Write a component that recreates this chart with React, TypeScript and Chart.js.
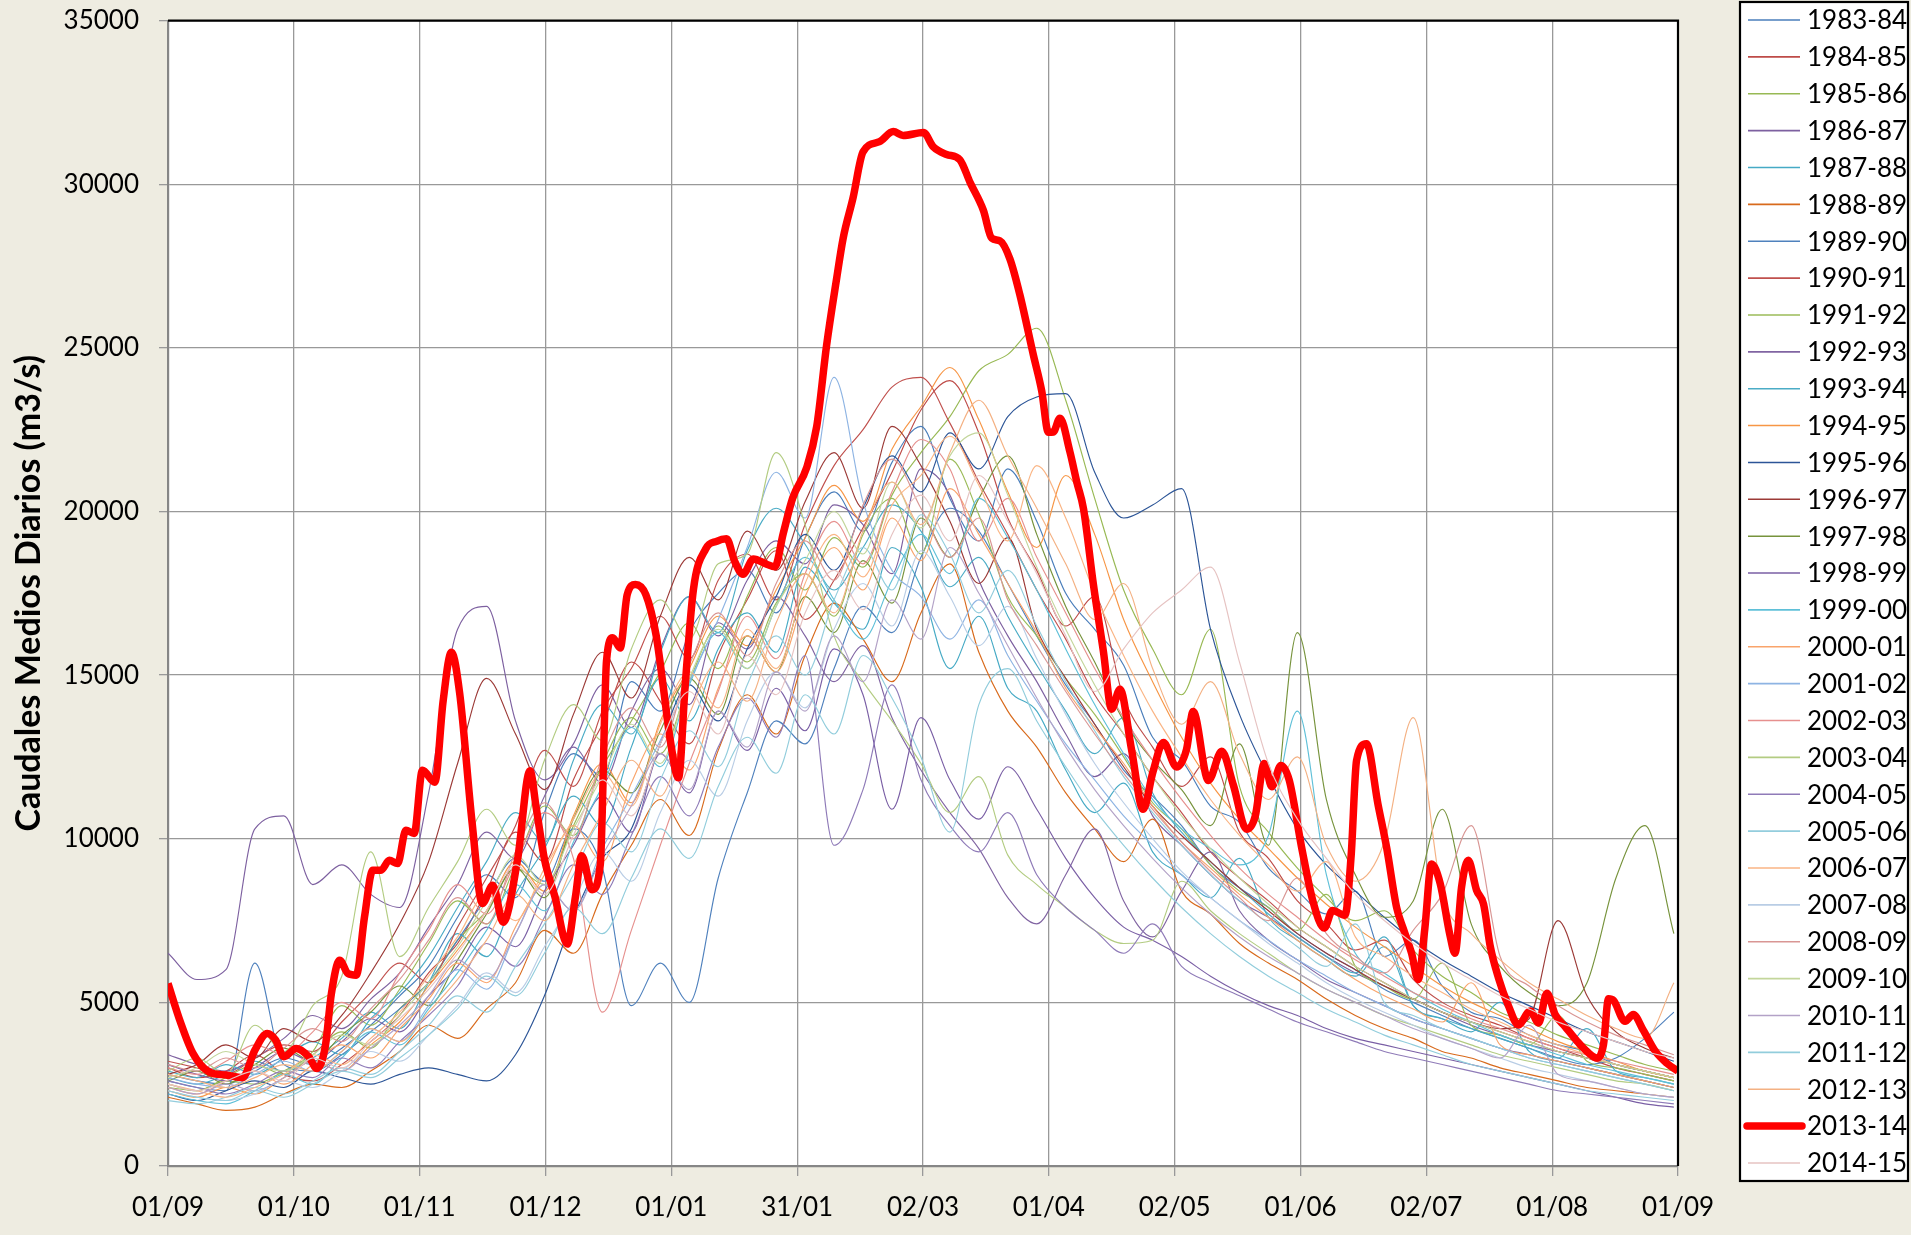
import React, { useEffect, useRef } from 'react';
import { Chart, registerables } from 'chart.js';

Chart.register(...registerables);

// ---------- DATA ----------
const xTickLabels = ['01/09', '01/10', '01/11', '01/12', '01/01', '31/01', '02/03', '01/04', '02/05', '01/06', '02/07', '01/08', '01/09'];
const yMax = 35000;
const yStep = 5000;

const seasons = ['1983-84', '1984-85', '1985-86', '1986-87', '1987-88', '1988-89', '1989-90', '1990-91', '1991-92', '1992-93', '1993-94', '1994-95', '1995-96', '1996-97', '1997-98', '1998-99', '1999-00', '2000-01', '2001-02', '2002-03', '2003-04', '2004-05', '2005-06', '2006-07', '2007-08', '2008-09', '2009-10', '2010-11', '2011-12', '2012-13', '2013-14', '2014-15'];

const seasonColors = ['#4A7EBB', '#BE4B48', '#98B954', '#7D60A0', '#46AAC5', '#D86A1C', '#4F81BD', '#C0504D', '#9BBB59', '#8064A2', '#4BACC6', '#F79646', '#2C5597', '#9C3A37', '#77933C', '#7A5FA5', '#5FC0D8', '#F9A46B', '#8EB4E3', '#E6908E', '#B3CC82', '#8F7BB8', '#93CDDD', '#FAB585', '#B9CDE5', '#D99694', '#C3D69B', '#B3A2C7', '#92CDDC', '#F4B183', '#FF0000', '#E6C3C2'];

// day index from 01/09 (weekly readings)
const weekDays = [0, 7, 14, 21, 28, 35, 42, 49, 56, 63, 70, 77, 84, 91, 98, 105, 112, 119, 126, 133, 140, 147, 154, 161, 168, 175, 182, 189, 196, 203, 210, 217, 224, 231, 238, 245, 252, 259, 266, 273, 280, 287, 294, 301, 308, 315, 322, 329, 336, 343, 350, 357, 364];

const f1983_84 = [2800, 2600, 2500, 2900, 3300, 3100, 3600, 4300, 5200, 6100, 7600, 8900, 8200, 10800, 12600, 11900, 14800, 13900, 16300, 17500, 18200, 16900, 19200, 20600, 19400, 21500, 22600, 20400, 19100, 21300, 19700, 17500, 16400, 15300, 13100, 12400, 11000, 10500, 9100, 8400, 7700, 8400, 6400, 6900, 5500, 4700, 4500, 4000, 3700, 3500, 3100, 2900, 2700];
const f1984_85 = [3000, 2700, 2900, 3400, 2800, 2600, 3100, 3800, 4600, 5900, 6800, 8400, 10200, 9300, 11800, 13500, 15400, 14200, 12900, 15600, 17300, 18800, 16700, 17900, 19500, 21200, 23100, 24000, 22400, 19800, 18200, 16500, 17400, 14300, 12800, 11600, 12500, 10200, 9400, 8100, 7400, 6600, 6900, 5700, 5000, 4600, 4300, 3900, 3600, 3300, 3000, 2800, 2600];
const f1985_86 = [2400, 2300, 2600, 2500, 2900, 3400, 4100, 3600, 4800, 5600, 6900, 7800, 9100, 8600, 10400, 12200, 13600, 15100, 16600, 15200, 17400, 18900, 17600, 19200, 18300, 20500, 21800, 22900, 24300, 24800, 25600, 23400, 20400, 17600, 15800, 14400, 16400, 11600, 10200, 9100, 8200, 7500, 7800, 6600, 5800, 5300, 4700, 4400, 4000, 3700, 3400, 3100, 2900];
const f1986_87 = [6500, 5700, 6000, 10300, 10700, 8600, 9200, 8300, 7900, 11400, 16400, 17100, 13600, 11800, 12900, 14700, 13400, 15800, 17400, 16200, 17900, 19100, 18400, 20200, 19600, 18100, 21300, 20500, 17900, 16200, 14800, 13200, 11900, 12600, 10700, 9800, 8900, 8100, 7600, 7000, 6400, 5900, 5500, 5100, 4700, 4300, 4000, 3700, 3500, 3300, 3100, 2900, 2700];
const f1987_88 = [2700, 2500, 2800, 3200, 2900, 3300, 3900, 4700, 4200, 5600, 7100, 6400, 8300, 9700, 11300, 10400, 12800, 14900, 13600, 15800, 16900, 15700, 18300, 17200, 16400, 18900, 17700, 15200, 16800, 14600, 13900, 12100, 10800, 11700, 9600, 8900, 8200, 9400, 7600, 6900, 6300, 5800, 6700, 4900, 4500, 4100, 5000, 3500, 3200, 3000, 2800, 2600, 2400];
const f1988_89 = [2100, 1900, 1700, 1800, 2200, 2500, 2400, 2900, 3500, 4300, 3900, 4800, 5600, 7200, 6500, 8300, 9800, 11200, 10100, 12700, 14400, 13200, 15600, 17200, 16100, 14800, 16900, 18400, 15700, 13900, 12800, 11400, 10300, 9300, 10600, 8400, 7700, 6800, 6200, 5700, 5100, 4600, 4200, 3900, 3500, 3300, 3000, 2800, 2600, 2400, 2300, 2200, 2100];
const f1989_90 = [2600, 2400, 2300, 6200, 3100, 2900, 3400, 4100, 4800, 5600, 6900, 8200, 9400, 8700, 10300, 9100, 4900, 6200, 5000, 8800, 11400, 13600, 12900, 15200, 17100, 16300, 18600, 20100, 19400, 17800, 16200, 14700, 13500, 12100, 11300, 10400, 9200, 8500, 7900, 7100, 6500, 6000, 5400, 5000, 4600, 4200, 3900, 3600, 3300, 3100, 3300, 3900, 4700];
const f1990_91 = [3200, 3000, 2800, 3300, 3700, 3500, 4400, 5300, 6200, 5600, 7300, 8800, 10400, 12700, 11600, 13900, 15200, 16800, 15500, 17900, 18700, 17300, 19600, 21400, 22500, 23800, 24100, 22700, 20900, 19300, 17600, 16100, 14400, 13200, 11900, 10800, 9600, 8800, 8100, 7300, 6700, 6100, 5600, 5100, 4700, 4400, 4100, 3800, 3500, 3300, 3100, 2900, 2700];
const f1991_92 = [2500, 2300, 2700, 3100, 2800, 3500, 4900, 4300, 5400, 6800, 8100, 7400, 9200, 11000, 10100, 12300, 13700, 12600, 14800, 16500, 15400, 17200, 18100, 16800, 19300, 20400, 18700, 21600, 19900, 17400, 16200, 14900, 13800, 12500, 11100, 10300, 9200, 8400, 7900, 7200, 8300, 6100, 5500, 5100, 6200, 4300, 4000, 3700, 4600, 3200, 3000, 2800, 2600];
const f1992_93 = [3400, 3100, 2900, 3300, 3900, 4600, 4200, 5100, 5900, 7300, 8600, 10200, 9400, 11300, 12800, 11700, 13900, 15200, 14100, 16600, 15800, 17400, 16200, 14800, 15900, 13700, 12100, 10800, 9700, 8200, 7400, 8900, 10300, 8100, 7000, 8400, 9600, 7800, 6900, 6300, 5700, 5300, 4900, 4500, 4200, 3900, 3600, 3400, 3200, 3000, 2800, 2600, 2400];
const f1993_94 = [2900, 2700, 3100, 2800, 3300, 3800, 3400, 4500, 5300, 6400, 7900, 9300, 10800, 9900, 12400, 14100, 13200, 15700, 17400, 16300, 18800, 20100, 19000, 17600, 18900, 20200, 19400, 17700, 18600, 16800, 15300, 13900, 12600, 13700, 11400, 10200, 9300, 8500, 7700, 7000, 6400, 5900, 7000, 4900, 4500, 4200, 3900, 3600, 3300, 4200, 2900, 2700, 2500];
const f1994_95 = [2300, 2100, 2400, 2200, 2700, 3200, 2900, 3700, 4400, 5500, 6600, 7800, 9300, 8400, 10700, 12300, 11100, 13600, 15200, 16800, 15900, 17600, 19200, 20800, 19700, 21900, 23200, 24400, 22800, 20600, 18900, 21100, 19300, 16700, 14800, 13100, 11700, 10600, 9700, 8800, 8000, 7300, 6700, 6100, 5500, 5000, 4600, 4200, 3800, 3500, 3200, 2900, 2700];
const f1995_96 = [2200, 2000, 2300, 2600, 2400, 2900, 2700, 2500, 2800, 3000, 2800, 2600, 3400, 5200, 7600, 9400, 10300, 12900, 14700, 13600, 15800, 17400, 19300, 18200, 20100, 21700, 20600, 22400, 21300, 22900, 23500, 23600, 21200, 19800, 20200, 20700, 16400, 13800, 11900, 10300, 9200, 8400, 7600, 6900, 6300, 5800, 5300, 4900, 4500, 4100, 3800, 3500, 3200];
const f1996_97 = [2800, 3100, 3700, 3300, 4200, 3800, 4600, 5900, 7400, 9300, 12300, 14900, 13200, 11500, 13800, 15700, 14300, 16800, 18600, 17300, 19400, 18200, 20300, 21800, 20100, 22600, 21400, 19700, 17800, 19200, 16400, 14900, 13500, 12200, 11000, 10100, 9300, 8500, 7800, 7100, 6500, 6000, 5500, 5100, 4700, 4400, 4200, 4500, 7500, 5200, 4100, 3600, 3300];
const f1997_98 = [2600, 2900, 2500, 3100, 3600, 3200, 4000, 4700, 5500, 4900, 6300, 7700, 9100, 8200, 10600, 12100, 11400, 13300, 14900, 13800, 16200, 15100, 17400, 16300, 18500, 17200, 19800, 18600, 20400, 21700, 19300, 17100, 15400, 13600, 12400, 11500, 10400, 12900, 9800, 16300, 11200, 8900, 7600, 8100, 10900, 7400, 6100, 5300, 4900, 5600, 8800, 10400, 7100];
const f1998_99 = [3100, 2800, 2600, 3000, 3500, 3200, 3800, 4500, 4100, 5200, 6100, 7300, 6700, 8400, 9800, 11300, 10200, 12600, 11400, 13900, 12700, 14600, 13300, 15800, 14400, 10900, 13700, 11800, 10600, 12200, 10900, 9400, 8200, 7300, 6900, 6400, 5800, 5300, 4900, 4600, 4200, 3900, 3700, 3500, 3300, 3100, 2900, 2700, 2500, 2300, 2100, 1900, 1800];
const f1999_00 = [2200, 2000, 1900, 2300, 2800, 2500, 3300, 4100, 3700, 4800, 5900, 7200, 8600, 7800, 9900, 11600, 13400, 12200, 14700, 16300, 15200, 17100, 18600, 17300, 16100, 17900, 19300, 18100, 20400, 19200, 17600, 15800, 14100, 12600, 11200, 10300, 9700, 9200, 10100, 13900, 8900, 6500, 5900, 5300, 4800, 4400, 4000, 3700, 3400, 3100, 2900, 2700, 2500];
const f2000_01 = [2400, 2200, 2600, 2900, 2500, 3100, 3700, 3300, 4200, 5100, 6200, 5600, 7300, 8900, 10400, 9300, 11700, 13200, 12100, 14600, 16200, 15100, 17400, 18900, 17600, 19800, 18500, 20700, 19300, 17800, 16300, 14600, 13400, 12300, 11000, 9900, 9100, 8300, 7600, 6900, 6300, 5700, 5200, 4800, 4400, 5600, 3700, 3400, 3200, 3000, 2800, 2600, 2400];
const f2001_02 = [2700, 2500, 2400, 2800, 3200, 2900, 3500, 4200, 3800, 4900, 6000, 5400, 7100, 8600, 7800, 9700, 11300, 13000, 14800, 16700, 18900, 21200, 19800, 24100, 20300, 18200, 17400, 16100, 17300, 15600, 14200, 12900, 11800, 10700, 9800, 8900, 8200, 7500, 6900, 6300, 5800, 5300, 4900, 4500, 4200, 3900, 3600, 3300, 3100, 2900, 2700, 2500, 2300];
const f2002_03 = [3000, 2800, 3200, 3700, 3400, 4100, 5000, 4500, 5900, 7200, 8600, 7700, 9300, 10800, 9400, 4700, 7200, 9800, 12300, 14500, 16800, 15500, 18100, 19700, 18400, 20600, 22200, 21300, 19100, 20400, 18600, 16900, 15200, 13700, 12400, 11200, 10100, 9100, 8300, 7600, 6900, 6300, 5800, 5300, 4900, 4500, 4200, 3900, 3600, 3400, 3200, 3000, 2800];
const f2003_04 = [2900, 3300, 2800, 4300, 3500, 4900, 5800, 9600, 6400, 7900, 9300, 10900, 9800, 12400, 14100, 13000, 15800, 17300, 16100, 18400, 18700, 21800, 19600, 16200, 14800, 13600, 12300, 10800, 11900, 9500, 8600, 7900, 7200, 6800, 6900, 8700, 7800, 7100, 6500, 5900, 5400, 5000, 4600, 4300, 4000, 3700, 3400, 3200, 3000, 2800, 2600, 2500, 2300];
const f2004_05 = [2600, 2400, 2200, 2500, 2900, 2700, 3300, 3000, 3800, 4600, 5500, 6800, 6100, 7600, 9200, 8300, 10100, 11900, 10700, 12800, 14300, 13100, 15600, 9800, 11500, 14700, 11800, 10400, 9600, 10800, 8900, 7900, 7200, 6500, 7400, 6100, 5600, 5200, 4800, 4400, 4100, 3800, 3500, 3300, 3100, 2900, 2700, 2500, 2300, 2200, 2100, 2000, 1900];
const f2005_06 = [2000, 1900, 2100, 2400, 2200, 2600, 3000, 2800, 3500, 4300, 5200, 4700, 6100, 7400, 8900, 10500, 9600, 11800, 13300, 12200, 14700, 16200, 15000, 17300, 18900, 17600, 19900, 18700, 16900, 18200, 16500, 14800, 13300, 11900, 10800, 9800, 8900, 8100, 7400, 6700, 6100, 7400, 5000, 4600, 4200, 3900, 3600, 3300, 3100, 2900, 2700, 2500, 2300];
const f2006_07 = [2500, 2300, 2100, 2400, 2800, 3400, 3100, 3900, 4700, 5800, 7000, 8300, 7500, 9100, 10600, 12000, 11000, 13500, 15100, 14000, 16400, 15200, 17800, 19300, 18000, 20200, 21100, 22300, 20800, 19100, 21400, 19800, 17500, 15600, 13900, 12500, 11200, 10100, 9200, 8400, 9300, 7000, 6400, 5800, 5300, 4800, 4400, 4000, 3700, 3400, 3100, 2900, 2700];
const f2007_08 = [2300, 2100, 2000, 2200, 2600, 2400, 2900, 3500, 3200, 4000, 4900, 5900, 5300, 6700, 8100, 9600, 8700, 10800, 12400, 11300, 13600, 15100, 14000, 16400, 17800, 16500, 18800, 17400, 15900, 17100, 15500, 13800, 12300, 11100, 10000, 9000, 8200, 7500, 6800, 6200, 5600, 5100, 4700, 4300, 3900, 3600, 3300, 3000, 2800, 2600, 2400, 2200, 2100];
const f2008_09 = [3100, 2900, 3300, 3000, 3600, 4200, 3800, 4800, 5700, 6900, 8200, 7400, 9600, 11100, 10000, 12500, 14000, 12800, 15300, 16900, 15600, 17800, 19100, 17900, 20200, 21600, 20100, 18600, 19800, 17300, 15900, 14500, 13200, 12000, 10900, 9900, 9000, 8200, 7500, 8800, 7100, 6400, 5900, 7200, 8300, 10400, 6400, 5500, 4900, 4400, 4000, 3700, 3400];
const f2009_10 = [2700, 3000, 3500, 3100, 2900, 3400, 4000, 3700, 4600, 5600, 6700, 8100, 9500, 8600, 10300, 11900, 13500, 12300, 14900, 16400, 15200, 17100, 18500, 20000, 18700, 20900, 19500, 21700, 22400, 20500, 18300, 16400, 14700, 13200, 11900, 10700, 9700, 8800, 8000, 7300, 6700, 6100, 5600, 5100, 4700, 4400, 4100, 3800, 3500, 3300, 3100, 2900, 2700];
const f2010_11 = [2400, 2200, 2500, 2300, 2700, 3200, 2900, 3600, 4300, 5200, 6300, 5700, 7100, 8600, 7800, 9500, 11000, 12600, 11500, 13900, 12800, 15100, 13900, 16200, 14800, 17300, 16100, 18900, 17500, 15900, 14300, 12800, 11500, 10400, 9400, 8500, 7700, 7000, 6400, 5900, 5400, 5000, 4600, 4200, 3900, 3600, 3300, 4300, 2800, 2600, 2400, 2200, 2100];
const f2011_12 = [2300, 2100, 2000, 2300, 2100, 2500, 2900, 2700, 3300, 4000, 4800, 5800, 5200, 6500, 7900, 7100, 8800, 10300, 9400, 11600, 13100, 12000, 14400, 13200, 15600, 14300, 12500, 10200, 14100, 15200, 13600, 12200, 10900, 9800, 8800, 7900, 7100, 6400, 5800, 5300, 4800, 4400, 4000, 3700, 3400, 3100, 2900, 2700, 2500, 2300, 2200, 2100, 2000];
const f2012_13 = [2800, 2600, 2400, 2700, 3100, 2900, 3500, 4200, 3800, 4700, 5700, 6900, 8300, 7500, 9200, 10800, 12400, 11300, 13800, 15400, 14200, 16600, 18100, 16900, 19400, 20900, 19600, 21800, 23400, 21700, 20100, 18400, 16700, 17800, 15200, 13500, 14800, 12600, 11200, 12500, 9800, 8700, 9900, 13700, 8300, 7100, 6300, 5600, 5100, 4600, 4200, 3900, 5600];
const f2014_15 = [2500, 2300, 2600, 2900, 2600, 3300, 3000, 3800, 4500, 5400, 6500, 7800, 9200, 8300, 10100, 11800, 10700, 12900, 14500, 13200, 15600, 14400, 16900, 18200, 17000, 19300, 20500, 19100, 21100, 19700, 18100, 16200, 14500, 15800, 16900, 17600, 18300, 15400, 12300, 10600, 9400, 8300, 7500, 6800, 6200, 5700, 5200, 4800, 4400, 4100, 3800, 3500, 3300];

// 2013-14 read more finely: [day from 01/09, flow m3/s]
const f2013_14: [number, number][] = [[0, 5580], [3, 4400], [6, 3450], [10, 2870], [14, 2780], [18, 2700], [21, 3540], [24, 4050], [26, 3850], [28, 3340], [31, 3590], [34, 3340], [36, 2980], [38, 3640], [39.5, 5270], [41.5, 6290], [43.5, 5880], [45.5, 5830], [47.5, 7610], [49.5, 9040], [51.5, 9040], [53.5, 9340], [55.5, 9240], [57.5, 10260], [59.5, 10160], [61.5, 12090], [64.5, 11730], [66.5, 14200], [68.5, 15700], [70.5, 14450], [73.5, 10500], [76, 8020], [78.5, 8580], [81, 7450], [84.5, 9370], [87.5, 12080], [89, 10950], [91, 9370], [93.5, 8240], [96.5, 6780], [98.5, 8240], [100, 9480], [102.5, 8440], [104.5, 9220], [106, 15440], [107.5, 16140], [109.3, 15830], [111, 17460], [113, 17770], [115.5, 17460], [118, 16210], [119.7, 14660], [121.3, 13100], [123.4, 11860], [125, 14660], [127, 17610], [130, 18860], [132.6, 19090], [135, 19170], [137, 18470], [139, 18080], [141.5, 18550], [144.7, 18390], [146.7, 18310], [148.7, 19320], [151, 20410], [154.4, 21350], [156.8, 22590], [159.2, 25080], [161.6, 27100], [163.2, 28350], [165.6, 29590], [168, 30990], [172, 31300], [175.3, 31610], [177.7, 31490], [182.6, 31580], [185, 31140], [188.2, 30910], [191.4, 30750], [193.9, 30050], [197.1, 29200], [199.1, 28350], [201.1, 28270], [203.5, 27720], [205.9, 26630], [209.2, 24770], [211.2, 23680], [212.8, 22420], [214, 22430], [215.6, 22850], [218, 21830], [219.7, 20890], [221.3, 20080], [223.7, 17760], [226.1, 15730], [228.1, 13960], [230.1, 14570], [232.9, 12730], [235.7, 10900], [238.1, 12050], [240.6, 12940], [243.8, 12190], [246.2, 12730], [247.8, 13890], [251.5, 11780], [254.7, 12670], [257.5, 11650], [260.7, 10290], [262.8, 10690], [265, 12300], [266.8, 11590], [269, 12240], [271, 11800], [274, 9750], [276.8, 8070], [279.5, 7270], [281.5, 7810], [284.5, 7660], [286, 9500], [287.3, 12390], [289.7, 12900], [292.5, 11040], [294.6, 9710], [297, 7890], [298.6, 7250], [300.6, 6500], [302.2, 5700], [303.8, 7250], [305.4, 9230], [307.5, 8640], [309.9, 7040], [311.1, 6500], [312.7, 8540], [314.3, 9340], [316.3, 8430], [318, 8000], [319.6, 6720], [321.6, 5750], [324, 4900], [326.4, 4310], [329.3, 4740], [331.3, 4370], [333.3, 5280], [335.3, 4630], [337.7, 4260], [340.5, 3830], [342.9, 3510], [345.4, 3300], [347, 3720], [348.2, 5110], [349.4, 5060], [352.2, 4420], [354.2, 4630], [356.6, 4150], [359.5, 3510], [362.3, 3140], [365, 2900]];

const weeklySeries = [f1983_84, f1984_85, f1985_86, f1986_87, f1987_88, f1988_89, f1989_90, f1990_91, f1991_92, f1992_93, f1993_94, f1994_95, f1995_96, f1996_97, f1997_98, f1998_99, f1999_00, f2000_01, f2001_02, f2002_03, f2003_04, f2004_05, f2005_06, f2006_07, f2007_08, f2008_09, f2009_10, f2010_11, f2011_12, f2012_13, null, f2014_15];

// ---------- LAYOUT ----------
const W = 1911;
const H = 1235;
const SHIFT = 15; // canvas is drawn 15px higher than the page top
const CH = H + SHIFT;
const FONT = 'Lato, "Open Sans", "DejaVu Sans", sans-serif';
const HIGHLIGHT = '2013-14';

const legendBox = { left: 1740, top: 2 + SHIFT, right: 1908, bottom: 1181 + SHIFT };
const legendFirstY = 20 + SHIFT;
const legendStep = 36.87;

const plotFramePlugin = {
  id: 'plotFrame',
  beforeDraw(chart: any) {
    const { ctx, chartArea } = chart;
    ctx.save();
    ctx.fillStyle = '#EEECE1';
    ctx.fillRect(0, 0, chart.width, chart.height);
    ctx.fillStyle = '#FFFFFF';
    ctx.fillRect(chartArea.left, chartArea.top, chartArea.right - chartArea.left, chartArea.bottom - chartArea.top);
    ctx.restore();
  },
  afterDraw(chart: any) {
    const { ctx, chartArea } = chart;
    ctx.save();
    ctx.strokeStyle = '#000';
    ctx.lineWidth = 2.2;
    ctx.beginPath();
    ctx.moveTo(chartArea.left, chartArea.top);
    ctx.lineTo(chartArea.right, chartArea.top);
    ctx.lineTo(chartArea.right, chartArea.bottom);
    ctx.stroke();

    // legend
    ctx.fillStyle = '#FFFFFF';
    ctx.fillRect(legendBox.left, legendBox.top, legendBox.right - legendBox.left, legendBox.bottom - legendBox.top);
    ctx.lineWidth = 2.2;
    ctx.strokeStyle = '#000';
    ctx.strokeRect(legendBox.left, legendBox.top, legendBox.right - legendBox.left, legendBox.bottom - legendBox.top);
    ctx.font = `26px ${FONT}`;
    ctx.textBaseline = 'middle';
    ctx.textAlign = 'left';
    chart.data.datasets.forEach((ds: any, i: number) => {
      const y = legendFirstY + i * legendStep;
      const thick = ds.label === HIGHLIGHT;
      ctx.strokeStyle = ds.borderColor;
      ctx.lineWidth = thick ? 7.5 : 1.6;
      ctx.lineCap = thick ? 'round' : 'butt';
      ctx.beginPath();
      ctx.moveTo(thick ? 1747 : 1748, y);
      ctx.lineTo(thick ? 1802 : 1800, y);
      ctx.stroke();
      ctx.fillStyle = '#000';
      ctx.fillText(ds.label, 1807, y + 1);
    });
    ctx.restore();
  },
};

export default function App() {
  const canvasRef = useRef<HTMLCanvasElement | null>(null);

  useEffect(() => {
    if (!canvasRef.current) return;
    Chart.defaults.font.family = FONT;
    Chart.defaults.color = '#000';

    const datasets = seasons.map((label, i) => {
      const isHi = label === HIGHLIGHT;
      const data = isHi
        ? f2013_14.map(([d, v]) => ({ x: d, y: v }))
        : (weeklySeries[i] as number[]).map((v, k) => ({ x: weekDays[k], y: v }));
      return {
        label,
        data,
        borderColor: seasonColors[i],
        backgroundColor: seasonColors[i],
        borderWidth: isHi ? 7.5 : 1.15,
        pointRadius: 0,
        cubicInterpolationMode: 'monotone' as const,
        borderJoinStyle: 'round' as const,
        fill: false,
        order: 100 - i,
      };
    });

    const chart = new Chart(canvasRef.current, {
      type: 'line',
      data: { datasets },
      options: {
        animation: false,
        responsive: false,
        maintainAspectRatio: false,
        events: [],
        layout: { padding: { top: 4, right: W - 1678, bottom: 0, left: 0 } },
        plugins: {
          legend: { display: false },
          tooltip: { enabled: false },
          title: { display: false },
        },
        scales: {
          x: {
            type: 'linear',
            min: 0,
            max: 365,
            afterBuildTicks: (scale: any) => {
              scale.ticks = xTickLabels.map((_, k) => ({ value: (k * 365) / 12 }));
            },
            afterFit: (scale: any) => {
              scale.height = 69;
            },
            ticks: {
              autoSkip: false,
              maxRotation: 0,
              font: { size: 26 },
              color: '#000',
              padding: 16,
              callback: (_v: any, i: number) => xTickLabels[i],
            },
            grid: { color: '#999999', lineWidth: 1.3, tickLength: 10, drawTicks: true },
            border: { color: '#868686', width: 2.2 },
          },
          y: {
            type: 'linear',
            min: 0,
            max: yMax,
            afterFit: (scale: any) => {
              scale.width = 168;
            },
            ticks: {
              stepSize: yStep,
              font: { size: 26 },
              color: '#000',
              padding: 20,
              callback: (v: any) => String(v),
            },
            grid: { color: '#999999', lineWidth: 1.3, tickLength: 9, drawTicks: true },
            border: { color: '#868686', width: 2.2 },
            title: {
              display: true,
              text: 'Caudales Medios Diarios (m3/s)',
              font: { size: 34, weight: 'bold' },
              color: '#000',
              padding: { top: 9, bottom: 0 },
            },
          },
        },
      },
      plugins: [plotFramePlugin],
    });

    return () => chart.destroy();
  }, []);

  return (
    <div style={{ position: 'absolute', left: 0, top: 0, width: W, height: H, overflow: 'hidden', background: '#EEECE1' }}>
      <canvas ref={canvasRef} width={W} height={CH} style={{ display: 'block', position: 'absolute', left: 0, top: -SHIFT, width: W, height: CH }} />
    </div>
  );
}
